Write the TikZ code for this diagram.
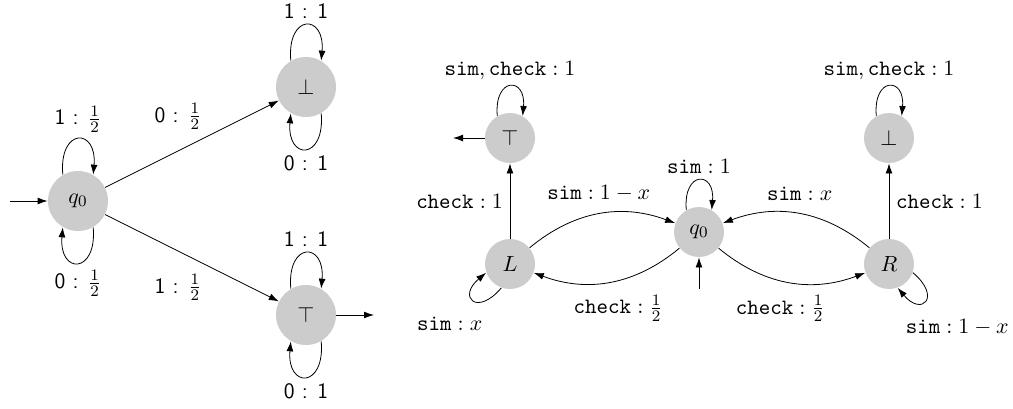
\documentclass[tikz,border=0pt]{standalone}
\usepackage{amsmath}
\usepackage{amssymb}
\usetikzlibrary{arrows.meta}

\tikzset{
  state/.style={circle,fill=black!20,inner sep=0pt},
  bigstate/.style={state,minimum size=30pt},
  smallstate/.style={state,minimum size=25pt},
  selfloop/.style={looseness=4},
}
\newcommand{\half}{\tfrac{1}{2}}

\begin{document}
\begin{tikzpicture}[x=0.5pt,y=0.5pt,>={Latex[length=5pt,width=3.4pt]},font=\fontsize{11}{13}\selectfont]
  \useasboundingbox (0,0) rectangle (1013,408);

  % left automaton
  \node[bigstate] (q0) at (78,207) {$q_0$};
  \node[bigstate] (bot) at (306,321) {$\bot$};
  \node[bigstate] (top) at (306,93) {$\top$};
  \coordinate (start) at (10,207);
  \coordinate (accept) at (374,93);

  \begin{scope}[font=\fontsize{11}{13}\sffamily]
    \draw[->] (start) -- (q0);
    \draw[->] (top) -- (accept);
    \draw[->] (q0.120) to[out=95,in=85,selfloop] node[above] {1 : $\half$} (q0.60);
    \draw[->] (q0.300) to[out=275,in=265,selfloop] node[below] {0 : $\half$} (q0.240);
    \draw[->] (q0) -- node[pos=0.42,above=7pt] {0 : $\half$} (bot);
    \draw[->] (q0) -- node[pos=0.42,below=8pt] {1 : $\half$} (top);
    \draw[->] (bot.120) to[out=95,in=85,selfloop] node[above] {1 : 1} (bot.60);
    \draw[->] (bot.300) to[out=275,in=265,selfloop] node[below] {0 : 1} (bot.240);
    \draw[->] (top.120) to[out=95,in=85,selfloop] node[above] {1 : 1} (top.60);
    \draw[->] (top.300) to[out=275,in=265,selfloop] node[below] {0 : 1} (top.240);
  \end{scope}

  % right automaton
  \node[smallstate] (q) at (699,176) {$q_0$};
  \node[smallstate] (L) at (510,144) {$L$};
  \node[smallstate] (R) at (889,144) {$R$};
  \node[smallstate] (T) at (510,270) {$\top$};
  \node[smallstate] (B) at (889,270) {$\bot$};
  \coordinate (init) at (699,119);
  \coordinate (out) at (453,270);

  \draw[->] (init) -- (q);
  \draw[->] (T) -- (out);
  \draw[->] (q.120) to[out=95,in=85,selfloop] node[above] {$\mathtt{sim}:1$} (q.60);
  \draw[->] (T.120) to[out=95,in=85,selfloop] node[above] {$\mathtt{sim},\mathtt{check}:1$} (T.60);
  \draw[->] (B.120) to[out=95,in=85,selfloop] node[above] {$\mathtt{sim},\mathtt{check}:1$} (B.60);
  \draw[->] (L.250) to[out=230,in=220,looseness=4.5] node[below=5pt,xshift=-12pt] {$\mathtt{sim}:x$} (L.200);
  \draw[->] (R.340) to[out=320,in=310,looseness=4.5] node[below=6pt,xshift=16pt] {$\mathtt{sim}:1-x$} (R.290);
  \draw[->] (L) -- node[left] {$\mathtt{check}:1$} (T);
  \draw[->] (R) -- node[right] {$\mathtt{check}:1$} (B);
  \draw[->] (L) to[bend left=30] node[above=3pt] {$\mathtt{sim}:1-x$} (q);
  \draw[->] (q) to[bend left=30] node[below=3pt,xshift=4pt] {$\mathtt{check}:\half$} (L);
  \draw[->] (R) to[bend right=30] node[above=3pt] {$\mathtt{sim}:x$} (q);
  \draw[->] (q) to[bend right=30] node[below=3pt,xshift=-4pt] {$\mathtt{check}:\half$} (R);
\end{tikzpicture}
\end{document}
